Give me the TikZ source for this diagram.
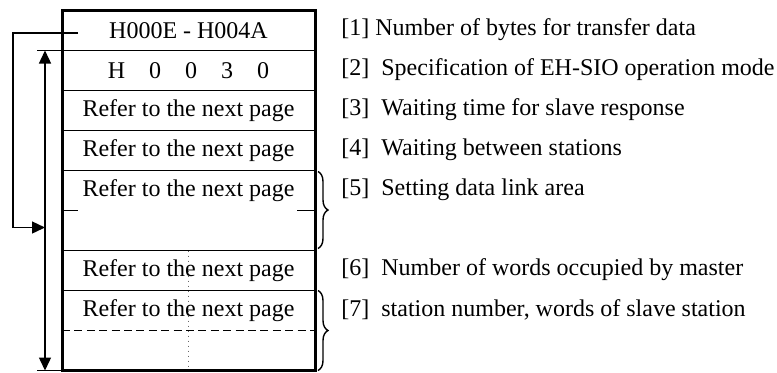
\documentclass[tikz,border=0pt]{standalone}
\usepackage{fontspec}
\setmainfont{Liberation Serif}
\usetikzlibrary{positioning,calc,arrows.meta,decorations.pathreplacing}

\begin{document}
\begin{tikzpicture}[font=\fontsize{12}{14}\selectfont, >={Triangle[length=6.5pt,width=6pt]},
  cell/.style={minimum width=126.5pt, minimum height=20pt, inner sep=0pt, outer sep=0pt},
  rule/.style={line width=0.9pt},
  lbl/.style={inner sep=0pt, yshift=0.5pt},
  brc/.style={decorate, decoration={brace, amplitude=5pt}, line width=0.7pt}]
  \useasboundingbox (0,0) rectangle (388.5pt,-186pt);
  \node[cell] (r1) at (94.25pt,-15.25pt) {H000E - H004A};
  \node[cell, below=0pt of r1] (r2) {H\quad 0\quad 0\quad 3\quad 0};
  \node[cell, below=0pt of r2] (r3) {Refer to the next page};
  \node[cell, below=0pt of r3] (r4) {Refer to the next page};
  \node[cell, below=0pt of r4] (r5) {Refer to the next page};
  \node[cell, below=0pt of r5] (r5b) {};
  \node[cell, below=0pt of r5b] (r6) {Refer to the next page};
  \node[cell, below=0pt of r6] (r7) {Refer to the next page};
  \node[cell, below=0pt of r7] (r7b) {};
  \draw[black!60, dotted, line width=0.5pt] (r6.north) -- (r7b.south);
  \foreach \r in {r1,r2,r3,r4,r5b,r6}
    \draw[rule] (\r.south west) -- (\r.south east);
  \draw[rule] (r5.south west) -- ++(8pt,0);
  \draw[rule] (r5.south east) -- ++(-9pt,0);
  \draw[rule, dash pattern=on 4pt off 2.2pt] (r7.south west) -- (r7.south east);
  \draw[line width=1.5pt] (r1.north west) rectangle (r7b.south east);
  \coordinate (up) at ($(r1.south west)+(-8.5pt,0)$);
  \coordinate (dn) at ($(r7b.south west)+(-8.5pt,0)$);
  \coordinate (s) at ($(r1.west)+(8pt,-1.25pt)$);
  \coordinate (e) at ($(up |- r5b.west)+(0,1.5pt)$);
  \draw[line width=0.7pt] ($(r1.south west)+(-12.5pt,0)$) -- (r1.south west);
  \draw[line width=0.7pt] ($(r7b.south west)+(-12.5pt,0)$) -- (r7b.south west);
  \draw[<->, line width=0.7pt] (up) -- (dn);
  \draw[->, line width=0.7pt] (s) -- ++(-32.5pt,0) |- (e);
  \draw[brc] ($(r5.north east)+(1.5pt,-0.5pt)$) -- ($(r5b.south east)+(1.5pt,1pt)$);
  \draw[brc] ($(r7.north east)+(1.5pt,0)$) -- ($(r7b.south east)+(1.5pt,0)$);
  \node[lbl, right=13pt of r1] (l1) {[1] Number of bytes for transfer data};
  \node[lbl, right=13pt of r2] (l2) {[2]\enspace Specification of EH-SIO operation mode};
  \node[lbl, right=13pt of r3] (l3) {[3]\enspace Waiting time for slave response};
  \node[lbl, right=13pt of r4] (l4) {[4]\enspace Waiting between stations};
  \node[lbl, right=13pt of r5] (l5) {[5]\enspace Setting data link area};
  \node[lbl, right=13pt of r6] (l6) {[6]\enspace Number of words occupied by master};
  \node[lbl, right=13pt of r7] (l7) {[7]\enspace station number, words of slave station};
\end{tikzpicture}
\end{document}
